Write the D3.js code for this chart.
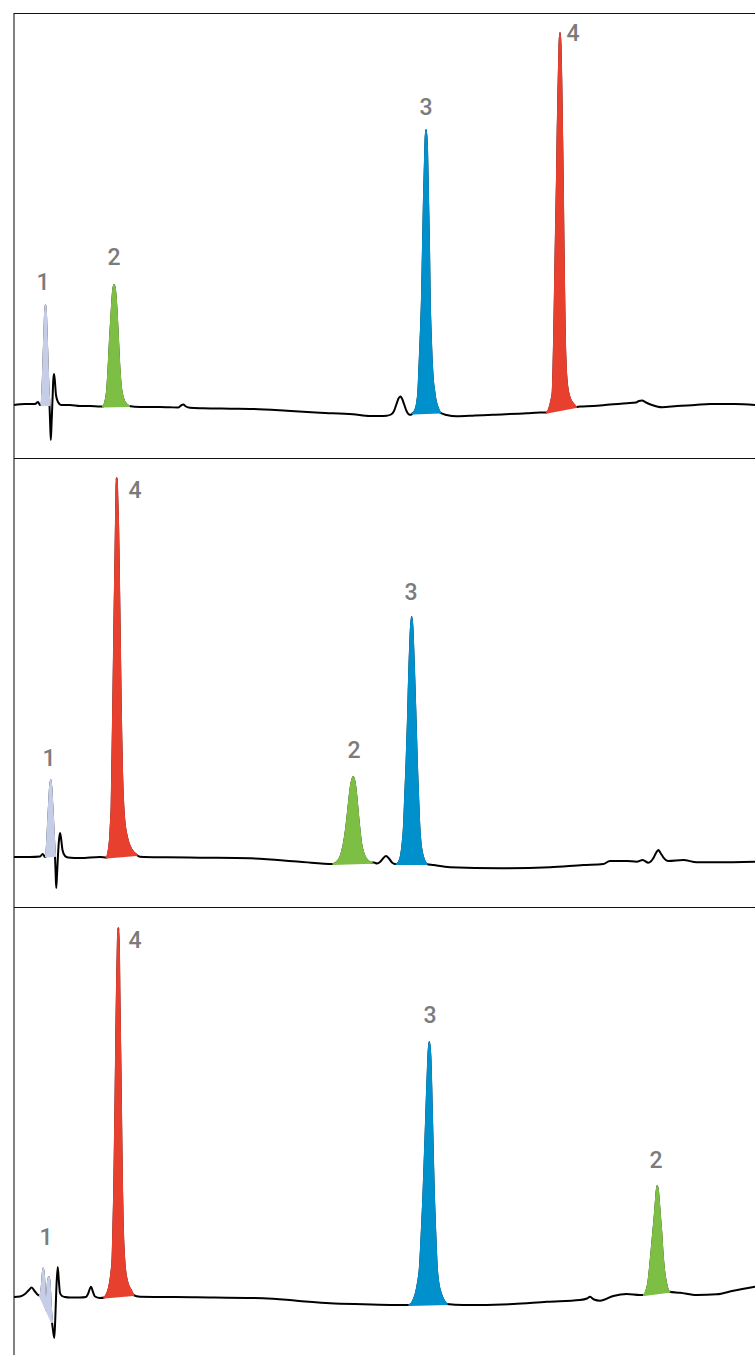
<!DOCTYPE html>
<html>
<head>
<meta charset="utf-8">
<script src="https://cdn.jsdelivr.net/npm/d3@7"></script>
<style>
  html, body { margin: 0; padding: 0; background: #fff; }
  svg { display: block; }
</style>
</head>
<body>
<div id="chart"></div>
<script>
// ---------------- DATA (time in s, signal in mAU) ----------------
const timeDomain = [0, 741];

// Panel 1 trace
const trace1 = [
  [0,0],[11,1],[21,1],[24,3],[26,0],
  [27.5,0],[28.5,15],[29.5,45],[30.5,75],[31.5,100],[32.5,75],[33.5,45],[34.5,15],[35.5,0],
  [36.2,-20],[36.8,-35],[37.5,-20],[38.5,5],[39.3,25],[40,31],[40.8,25],[42,10],[44,3],[47,0],
  [56,0],[66,-1],[76,-1],[86,-1.5],
  [89,-1.5],[91,2],[93,13],[94.5,35],[96,65],[97.5,90],[99,113],[100,120],[101,115],[102.5,95],[104,65],[105.5,35],[107,17],[109,7],[112,1],[115,-1],
  [126,-2],[146,-2],[156,-2.3],[164,-2.5],[167,-0.5],[169.3,0.5],[172,-1.5],[176,-2.8],[189,-3.3],[216,-3.7],[239,-4],[273,-5.7],[306,-7.7],[339,-9.3],[356,-11],[366,-11],
  [372.7,-10.7],[377,-9.5],[380,-6],[382.5,1],[384.5,6.5],[386.5,8.5],[388,6.5],[390,1],[392.5,-6],[395,-9.5],[397,-9.8],
  [398.5,-8.5],[401,-6],[403,1],[404.5,15],[405.5,38],[407,75],[408,105],[409,155],[410,205],[411.3,255],[412,275],[413,255],[414,205],[415,155],[415.7,105],[416.7,70],[418,38],[419,23],[420,15],[421.5,5],[423.5,-2],[426,-7.5],
  [432.7,-10],[442.7,-11.3],[461,-10.5],[479,-9.7],[512.7,-8.3],[526,-7.5],
  [533,-7.5],[535.5,-3],[537.5,5],[538.7,12],[539.5,35],[540.3,72],[541.2,125],[542,172],[543,225],[543.7,272],[544.5,315],[545.3,350],[546,372],[546.7,350],[547.2,325],[548,272],[548.7,225],[549.3,172],[550,120],[550.7,72],[551.7,38],[552.8,22],[554.3,12],[556.5,5],[559.3,1],[562,-2],
  [566,-1.5],[579,-1],[596,0.5],[613,1.7],[622,2.5],[625,4],[628,4.5],[632,2.5],[638,0],[648,-2.3],[663,-1],[681,0],[696,1],[721,1],[741,0]
];
const peaks1Name  = ["1","2","3","4"];
const peaks1Start = [27.5, 89, 398.5, 533];
const peaks1End   = [35.5, 115, 426, 562];
const labels1T    = [29, 100, 412, 559];
const labels1S    = [123, 148, 298, 372];

// Panel 2 trace
const trace2 = [
  [0,0],[16,0],[26,0.5],[28.7,3],[31,0],
  [32,0.5],[33,12],[34,32],[35.3,57],[36.7,77],[38,57],[39.3,32],[40.3,12],[41,1],
  [41.6,-15],[42.2,-31],[43,-18],[44,2],[45,17],[46,24],[47,19],[48.5,7],[51,1],[54,-0.5],
  [66,-1],[86,0],
  [92.7,-0.5],[94.5,5],[96,17],[97,35],[97.7,50],[98.5,100],[99.3,150],[100,200],[100.7,250],[101.4,292],[102,334],[102.4,357],[102.7,379],[103.3,357],[104,334],[104.7,292],[105.3,250],[106,200],[106.7,150],[107.3,117],[108,84],[109.3,50],[110.5,34],[112,24],[114.5,14],[117.7,7],[122.7,2],
  [126,0.3],[152.7,-0.3],[186,-0.7],[236,-1.3],[286,-4.7],
  [319.3,-7],[323,-5],[326,-1],[328,5],[330,14],[332,27],[333.7,42],[335.5,59],[337,71],[339.3,80],[341,72],[342.5,59],[344,42],[345.5,27],[347,14],[349,5],[351.5,-1],[354.5,-4.5],[357.7,-5.7],
  [360,-5.5],[363,-6.5],[366,-5],[369,-1.5],[372,1],[375,-1.5],[378,-5.5],[381,-7],
  [382.7,-7],[385,-5],[387,1],[388.5,12],[390,30],[391.3,62],[392.7,97],[394,137],[394.7,164],[395.5,192],[396.3,214],[397.7,240],[399,214],[399.8,192],[400.7,164],[401.7,132],[402.7,97],[404,62],[405.3,30],[406.5,14],[408,4],[410,-3],[412.7,-7],
  [419.3,-8],[436,-10.3],[486,-11.3],[536,-10.3],[569.3,-8],[589.3,-7],[596,-4],[612.7,-4],[622.7,-4.7],[628.7,-3],[634.3,-5.7],[639.3,-1.3],[642,4],[644.3,7],[646.5,4],[649.3,-0.3],[654.3,-4],[669.3,-3],[682.7,-5.3],[702.7,-5.3],[741,-4.7]
];
const peaks2Name  = ["1","4","2","3"];
const peaks2Start = [32, 92.7, 319.3, 382.7];
const peaks2End   = [41, 122.7, 357.7, 412.7];
const labels2T    = [35, 121, 340, 397];
const labels2S    = [99, 367, 107, 265];

// Panel 3 trace
const trace3 = [
  [0,0],[6,0.5],[11,3],[14.5,6.5],[17.7,9.5],[20.5,6],[24,2],[26,1],
  [27.5,7],[28.5,19],[29.3,28.5],[30.2,17],[31,-3],[32,-13],[33,-1],[34,15],[35,20],[36,7],[37,-13],[38,-25],
  [39,-33],[40.3,-41],[41.3,-21],[42.3,7],[43.7,30],[44.8,17],[46,4],[48,1],[51,0],
  [56,-0.5],[66,-0.5],[72,0],[74,3],[77,10.3],[79,5],[81,0.5],[86,-1],
  [90.3,-0.5],[93,3],[95,9],[96,14],[97.5,25],[98.7,40],[99.5,72],[100.3,107],[101,157],[101.7,207],[102.3,257],[103,307],[103.7,342],[104.3,369],[105,337],[105.3,307],[106,257],[106.7,207],[107.3,157],[108,107],[108.7,72],[110,40],[111.3,25],[112.7,17],[114.5,11],[116.7,7],[119.3,2],
  [126,0.3],[182.7,-0.3],[249.3,-1.3],[282.7,-3.7],[316,-6.3],[349.3,-7.3],[381,-8],
  [395.3,-8],[398,-6],[400,-2],[402,4],[404,14],[406,30],[407.7,62],[409.3,97],[410.5,130],[411.7,164],[412.8,197],[414,230],[415.3,255],[416.7,230],[417.5,197],[418.3,164],[419.1,130],[420,97],[421.3,62],[422.7,30],[424.3,14],[426.7,4],[429.5,-3],[432.7,-7],
  [449.3,-8],[499.3,-7],[532.7,-4.7],[566,-3],[573,-1.5],[576,0.3],[580,-2.5],[586,-3.7],[599.3,1],[612.7,3],[626,2],
  [630,2],[632,5],[634.3,14],[636,29],[637.7,47],[639.3,65],[640.7,80],[642,97],[643.3,111],[644.7,97],[646,80],[647.2,65],[648.3,47],[650,27],[652,14],[653.5,8],[655.3,5.3],
  [666,4.3],[682.7,2],[702.7,2.7],[719.3,6.3],[741,10.3]
];
const peaks3Name  = ["1","4","3","2"];
const peaks3Start = [26, 90.3, 395.3, 630];
const peaks3End   = [38, 119.3, 432.7, 655.3];
const labels3T    = [32, 121, 416, 642];
const labels3S    = [60, 357, 282, 137];

// compound colours
const compoundNames  = ["1","2","3","4"];
const compoundColors = ["#c6cde7", "#7dbe45", "#0090cc", "#e8402f"];

// ---------------- LAYOUT ----------------
const W = 755, H = 1355;
const left = 14, right = 755;
const panels = [
  { trace: trace1, names: peaks1Name, start: peaks1Start, end: peaks1End, lt: labels1T, ls: labels1S, top: 13,  bottom: 458,  yDomain: [-53, 392] },
  { trace: trace2, names: peaks2Name, start: peaks2Start, end: peaks2End, lt: labels2T, ls: labels2S, top: 458, bottom: 907,  yDomain: [-50, 399] },
  { trace: trace3, names: peaks3Name, start: peaks3Start, end: peaks3End, lt: labels3T, ls: labels3S, top: 907, bottom: 1355, yDomain: [-58, 390] }
];

const color = d3.scaleOrdinal().domain(compoundNames).range(compoundColors);
const x = d3.scaleLinear().domain(timeDomain).range([left, right]);

const svg = d3.select("#chart").append("svg")
  .attr("width", W).attr("height", H);

// frame
svg.append("line")
  .attr("x1", left).attr("x2", left)
  .attr("y1", panels[0].top).attr("y2", H)
  .attr("stroke", "#4a4a4a").attr("stroke-width", 1.4);

panels.forEach(p => {
  const y = d3.scaleLinear().domain(p.yDomain).range([p.bottom, p.top]);
  const g = svg.append("g");

  g.append("line")
    .attr("x1", left).attr("x2", right)
    .attr("y1", p.top + 0.5).attr("y2", p.top + 0.5)
    .attr("stroke", "#111").attr("stroke-width", 1.1);

  const line = d3.line()
    .x(d => x(d[0])).y(d => y(d[1]))
    .curve(d3.curveMonotoneX);

  // black trace
  g.append("path")
    .attr("d", line(p.trace))
    .attr("fill", "none")
    .attr("stroke", "#000")
    .attr("stroke-width", 2)
    .attr("stroke-linejoin", "round");

  // coloured peaks
  p.names.forEach((name, i) => {
    const seg = p.trace.filter(d => d[0] >= p.start[i] && d[0] <= p.end[i]);
    g.append("path")
      .attr("d", line(seg) + "Z")
      .attr("fill", color(name))
      .attr("stroke", color(name))
      .attr("stroke-width", 2.2)
      .attr("stroke-linejoin", "round");
  });

  // labels
  p.names.forEach((name, i) => {
    g.append("text")
      .attr("x", x(p.lt[i]))
      .attr("y", y(p.ls[i]))
      .attr("text-anchor", "middle")
      .attr("dominant-baseline", "central")
      .attr("font-family", "Roboto, 'Liberation Sans', Arial, sans-serif")
      .attr("font-weight", 500)
      .attr("font-size", 23)
      .attr("fill", "#7b7b7b")
      .text(name);
  });
});
</script>
</body>
</html>
